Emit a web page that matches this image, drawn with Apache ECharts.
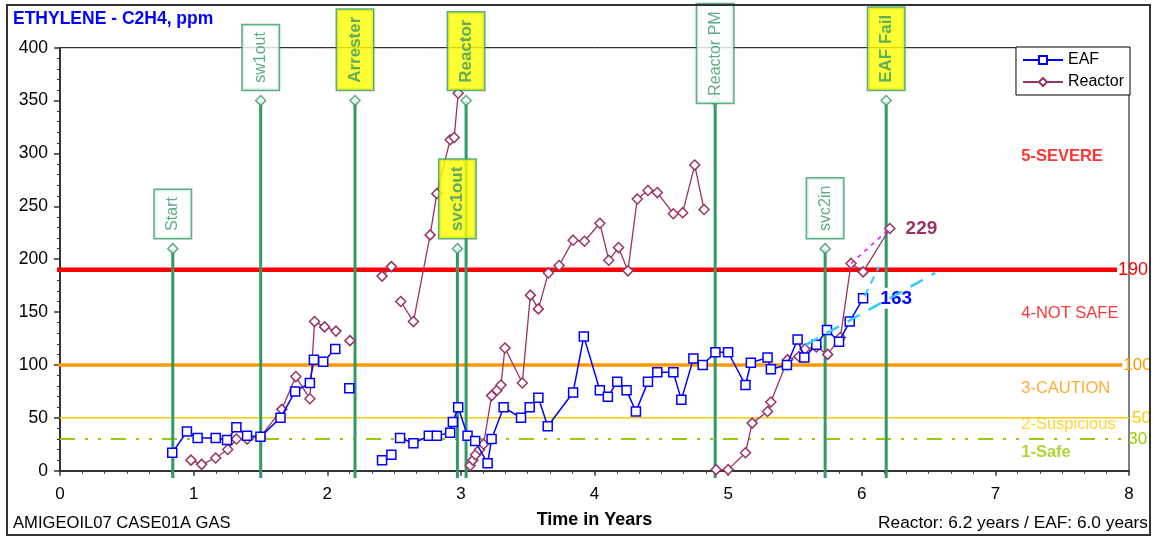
<!DOCTYPE html>
<html>
<head>
<meta charset="utf-8">
<script src="https://cdn.jsdelivr.net/npm/echarts@6/dist/echarts.min.js"></script>
<style>
html,body{margin:0;padding:0;background:#fff;}
#chart{width:1153px;height:539px;}
</style>
</head>
<body>
<div id="chart"></div>
<script>
// ---------- DATA ----------
const eafT = [0.84,0.95,1.03,1.165,1.25,1.32,1.40,1.50,1.65,1.76,1.87,1.90,1.97,2.06,null,2.165,null,2.41,2.48,null,
  2.545,2.645,2.76,2.82,2.92,2.94,2.98,3.05,3.107,3.20,3.23,3.32,3.45,3.515,3.58,3.65,3.84,3.92,4.04,4.10,4.17,4.24,
  4.31,4.40,4.47,4.59,4.65,4.74,4.81,4.905,5.00,5.13,5.17,5.295,5.32,5.44,5.52,5.57,5.66,5.74,5.83,5.91,6.01];
const eafV = [17,37,31,31,29,41,33,32,50,75,83,105,103,115,null,78,null,10,15,null,
  31,26,33,33,36,46,60,33,28,7,30,60,50,60,69,42,74,127,76,70,84,76,
  56,84,93,93,67,106,100,112,112,81,102,107,96,100,124,107,119,133,122,141,163];

const reactorT = [0.98,1.06,1.165,1.255,1.32,1.40,1.50,1.66,1.765,1.87,1.905,1.98,2.065,null,2.17,null,2.41,2.48,null,
  2.55,2.645,2.77,2.82,2.92,2.95,2.98,null,3.07,3.09,3.11,3.14,3.17,3.23,3.27,3.30,3.33,3.46,3.52,3.58,3.655,3.735,
  3.84,3.925,4.04,4.107,4.18,4.25,4.32,4.40,4.47,4.59,4.66,4.75,4.82,null,
  4.91,5.00,5.13,5.18,5.295,5.32,5.445,5.53,5.575,5.66,5.745,5.84,5.92,6.01,6.21];
const reactorV = [10,6,12,20,30,30,32,58,89,68,141,136,132,null,123,null,184,193,null,
  160,141,223,262,313,315,357,null,5,10,15,20,25,71,76,81,116,83,166,153,187,194,
  218,217,234,199,211,189,257,265,263,243,244,289,247,null,
  1,1,17,45,56,65,105,108,115,117,110,126,196,188,229];

const eafTrendT = [5.58, 6.55];
const eafTrendV = [119, 187];
const eafProjT = [6.02, 6.13];
const eafProjV = [165, 193];
const reactorTrendT = [5.92, 6.21];
const reactorTrendV = [196, 229];

const eventNames = ['Start','sw1out','Arrester','svc1out','Reactor','Reactor PM','svc2in','EAF Fail'];
const eventTimes = [0.844, 1.502, 2.208, 2.974, 3.039, 4.903, 5.726, 6.183];
const eventTops  = [210, 350, 350, 210, 350, 350, 210, 350];
const eventHighlight = [false,false,true,true,true,false,false,true];
const eventBase = -7;

const thresholdValues = [190, 100, 50, 30];
const thresholdLabels = ['190','100','50','30'];
const thresholdStart = [-0.06, -0.04, 0, 0];
const thresholdEnd = [7.91, 7.95, 8.0, 7.95];

const zoneNames = ['5-SEVERE','4-NOT SAFE','3-CAUTION','2-Suspicious','1-Safe'];
const zoneValues = [297, 149, 78, 44, 17];
const zoneTime = 7.19;

const xTicks = [0,1,2,3,4,5,6,7,8];
const yTicks = [0,50,100,150,200,250,300,350,400];

// ---------- STYLE ----------
const FONT = 'Liberation Sans, Arial, sans-serif';
const GREEN = '#339966';
const thresholdColors = ['#ff0000','#ff9900','#ffcc00','#99cc00'];
const thresholdWidths = [4.5, 3.5, 1.5, 2];
const thresholdLabelGap = [1, 1, 3, 6];
const zoneColors = ['#ff0000','#ff0000','#ff9900','#ffcc00','#99cc00'];
const zoneBold = [true,false,false,false,true];

function pairs(ts, vs){
  return ts.map((t,i)=> (t===null || vs[i]===null) ? ['-','-'] : [t, vs[i]]);
}

const eafData = pairs(eafT, eafV);
eafData[eafData.length-1] = {
  value: eafData[eafData.length-1],
  label: {show:true, position:'right', distance:10, formatter: String(eafV[eafV.length-1]),
    color:'#0000ff', fontSize:19, fontWeight:'bold', fontFamily:FONT, backgroundColor:'#fff', padding:[1,2,1,2]}
};
const reactorData = pairs(reactorT, reactorV);
reactorData[reactorData.length-1] = {
  value: reactorData[reactorData.length-1],
  label: {show:true, position:'right', distance:10, formatter: String(reactorV[reactorV.length-1]),
    color:'#993366', fontSize:19, fontWeight:'bold', fontFamily:FONT}
};

const series = [];

// threshold lines
thresholdValues.forEach((v,i)=>{
  series.push({
    type:'line', silent:true, clip:false, symbol:'none', z:1,
    data:[[thresholdStart[i], v],[thresholdEnd[i], v]],
    lineStyle:{color:thresholdColors[i], width:thresholdWidths[i],
      type: i===3 ? [15,10,3,10,3,10] : 'solid'},
    endLabel:{show:true, formatter:thresholdLabels[i], color:thresholdColors[i],
      fontSize: i===0 ? 18 : 17, fontFamily:FONT, distance: thresholdLabelGap[i]}
  });
});

// zone labels
series.push({
  type:'scatter', silent:true, z:1, symbolSize:1,
  itemStyle:{color:'transparent'},
  data: zoneNames.map((n,i)=>({
    value:[zoneTime, zoneValues[i]],
    label:{show:true, position:'right', distance:0, formatter:n, color:zoneColors[i],
      fontSize:16.5, fontWeight: zoneBold[i] ? 'bold':'normal', fontFamily:FONT}
  }))
});

// event stems
const stemData = [];
eventTimes.forEach((t,i)=>{ stemData.push([t, eventBase],[t, eventTops[i]],['-','-']); });
series.push({
  type:'line', silent:true, clip:false, symbol:'none', z:3,
  data: stemData, lineStyle:{color:GREEN, width:3}
});

// data series
series.push({
  name:'EAF', type:'line', z:5, data: eafData,
  symbol:'rect', symbolSize:9, showSymbol:true, showAllSymbol:true,
  lineStyle:{color:'#0000ff', width:1.5},
  itemStyle:{color:'#fff', borderColor:'#0000ff', borderWidth:1.5}
});
series.push({
  name:'Reactor', type:'line', z:4, data: reactorData,
  symbol:'diamond', symbolSize:10, showSymbol:true, showAllSymbol:true,
  lineStyle:{color:'#993366', width:1.3},
  itemStyle:{color:'#fff', borderColor:'#993366', borderWidth:1.5}
});

// trend lines
series.push({type:'line', silent:true, clip:false, symbol:'none', z:6, data: pairs(eafTrendT, eafTrendV),
  lineStyle:{color:'#33ccff', width:2.5, type:[14,10]}});
series.push({type:'line', silent:true, clip:false, symbol:'none', z:6, data: pairs(eafProjT, eafProjV),
  lineStyle:{color:'#33ccff', width:2, type:[8,6]}});
series.push({type:'line', silent:true, clip:false, symbol:'none', z:6, data: pairs(reactorTrendT, reactorTrendV),
  lineStyle:{color:'#ff00ff', width:1.5, type:[4,5]}});

// event markers with labels
series.push({
  type:'scatter', silent:true, z:8, symbol:'diamond', symbolSize:10,
  itemStyle:{color:'#fff', borderColor:GREEN, borderWidth:1.5},
  data: eventNames.map((n,i)=>({
    value:[eventTimes[i], eventTops[i]],
    label:{
      show:true, position:'top', distance: n==='Reactor PM' ? -8 : 5,
      rotate:90, align:'left', verticalAlign:'middle',
      formatter:n, color:GREEN, fontFamily:FONT,
      fontSize: eventHighlight[i] ? 17 : 16,
      fontWeight: eventHighlight[i] ? 'bold' : 'normal',
      backgroundColor: eventHighlight[i] ? '#ffff00' : '#fff',
      borderColor:GREEN, borderWidth:1.5,
      lineHeight:20, padding:[8,7,8,7]
    }
  }))
});

const option = {
  animation:false,
  backgroundColor:'#fff',
  title:[
    {text:'ETHYLENE - C2H4, ppm', left:13, top:10, padding:0,
      textStyle:{color:'#0000ff', fontSize:17.5, fontWeight:'bold', fontFamily:FONT}},
    {text:'AMIGEOIL07 CASE01A GAS', left:13, top:515, padding:0,
      textStyle:{color:'#000', fontSize:16.6, fontWeight:'normal', fontFamily:FONT}},
    {text:'Reactor: 6.2 years / EAF: 6.0 years', right:5, top:515, padding:0,
      textStyle:{color:'#000', fontSize:17.3, fontWeight:'normal', fontFamily:FONT}}
  ],
  legend:{
    data:['EAF','Reactor'], orient:'vertical', right:23, top:47,
    itemWidth:40, itemHeight:10, itemGap:6,
    backgroundColor:'#fff', borderColor:'#000', borderWidth:1, borderRadius:0,
    padding:[5,6,5,6],
    textStyle:{fontSize:16, color:'#000', fontFamily:FONT}
  },
  grid:{left:60, right:24, top:47.7, bottom:68.3, show:true, borderColor:'#000', borderWidth:1, containLabel:false},
  xAxis:{
    type:'value', min:xTicks[0], max:xTicks[xTicks.length-1], interval:1,
    name:'Time in Years', nameLocation:'middle', nameGap:40,
    nameTextStyle:{fontSize:18, fontWeight:'bold', color:'#000', fontFamily:FONT},
    axisLine:{show:true, onZero:false, lineStyle:{color:'#333', width:2}},
    axisTick:{show:true, length:5, lineStyle:{color:'#333', width:1.5}},
    minorTick:{show:true, splitNumber:6, length:3, lineStyle:{color:'#333', width:1}},
    axisLabel:{fontSize:17, color:'#000', margin:15, fontFamily:FONT},
    splitLine:{show:false}
  },
  yAxis:{
    type:'value', min:yTicks[0], max:yTicks[yTicks.length-1], interval:50,
    axisLine:{show:true, onZero:false, lineStyle:{color:'#333', width:2}},
    axisTick:{show:true, length:6, lineStyle:{color:'#333', width:1.5}},
    minorTick:{show:true, splitNumber:5, length:3, lineStyle:{color:'#333', width:1}},
    axisLabel:{fontSize:17.5, color:'#000', margin:12, fontFamily:FONT},
    splitLine:{show:false}
  },
  graphic:[
    {type:'rect', z:100, silent:true, shape:{x:7, y:5, width:1143, height:530},
      style:{fill:null, stroke:'#333', lineWidth:2}}
  ],
  series: series
};

const chart = echarts.init(document.getElementById('chart'), null, {renderer:'canvas'});
chart.setOption(option);
</script>
</body>
</html>
